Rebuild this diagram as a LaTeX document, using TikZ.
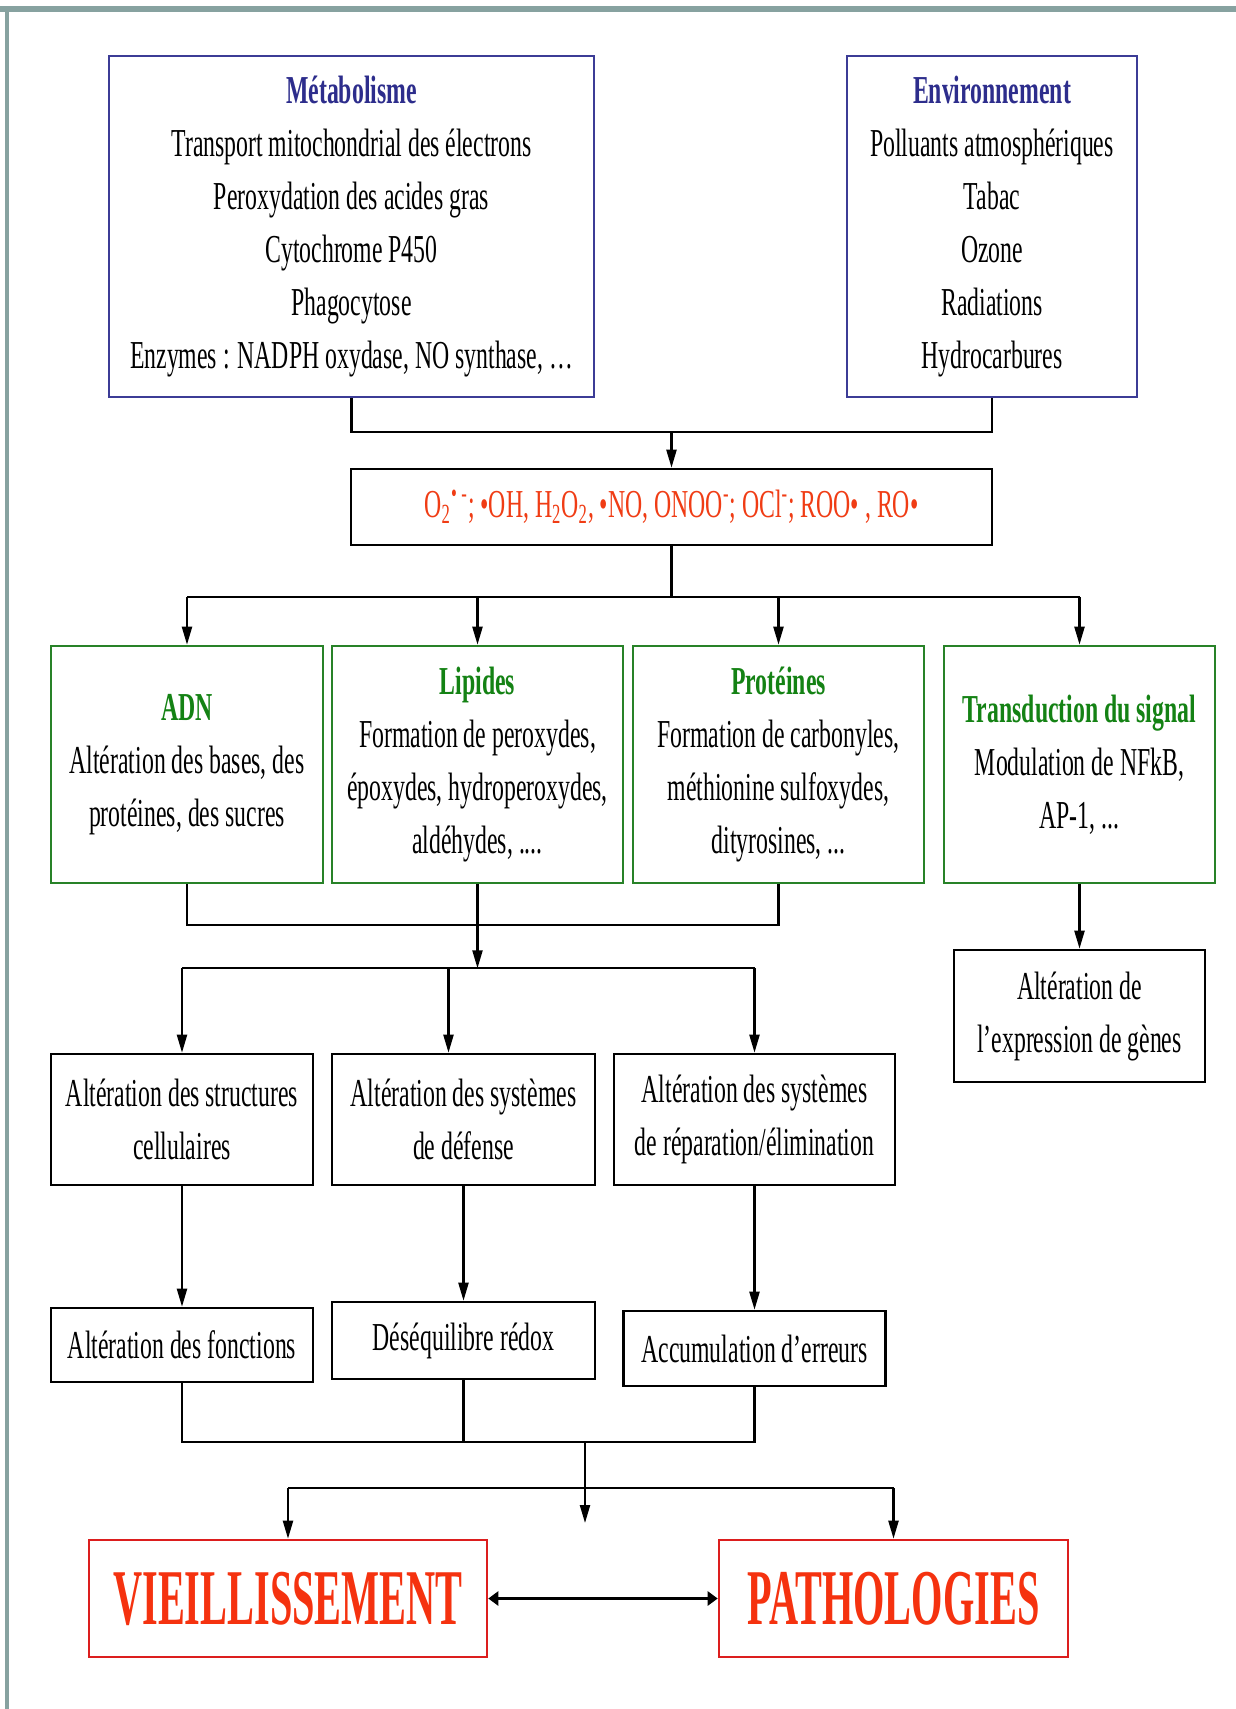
\documentclass[tikz,border=0pt]{standalone}
\usepackage{fontspec}
\setmainfont{Liberation Serif}[FakeStretch=0.6]
\newfontfamily\bigfont{Liberation Serif}[FakeStretch=0.51]
\usetikzlibrary{arrows.meta}

\definecolor{titleblue}{RGB}{45,45,140}
\definecolor{boxblue}{RGB}{60,60,150}
\definecolor{titlegreen}{RGB}{20,130,20}
\definecolor{boxgreen}{RGB}{40,130,40}
\definecolor{rostext}{RGB}{240,60,20}
\definecolor{bigred}{RGB}{245,50,15}
\definecolor{boxred}{RGB}{220,30,30}
\definecolor{framegray}{RGB}{135,162,160}

\begin{document}
\begin{tikzpicture}[x=0.5pt,y=-0.5pt,
  font=\fontsize{19.8}{26.5}\selectfont,
  box/.style={draw, line width=1.3pt, align=center, inner sep=2pt},
  bluebox/.style={box, draw=boxblue, minimum height=170.5pt},
  greenbox/.style={box, draw=boxgreen, minimum height=118.5pt},
  redbox/.style={box, draw=boxred, minimum height=58.5pt, text=bigred,
    font=\bigfont\bfseries\fontsize{39.5}{42}\selectfont},
  conn/.style={line width=1.1pt},
  arr/.style={conn, -{Triangle[length=9pt,width=5pt]}},
  both/.style={line width=1.7pt, {Triangle[length=5pt,width=7pt]}-{Triangle[length=5pt,width=7pt]}}]

\useasboundingbox (0,0) rectangle (1236,1709);
\fill[white] (0,0) rectangle (1236,1709);
\draw[framegray, line width=3pt] (0,9) -- (1236,9);
\draw[framegray, line width=2pt] (7,9) -- (7,1709);

% sources
\node[bluebox, minimum width=242.5pt] (meta) at (351.5,226.5)
  {\textbf{\color{titleblue}Métabolisme}\\Transport mitochondrial des électrons\\
   Peroxydation des acides gras\\Cytochrome P450\\Phagocytose\\
   Enzymes : NADPH oxydase, NO synthase, \dots};
\node[bluebox, minimum width=145pt] (env) at (992,226.5)
  {\textbf{\color{titleblue}Environnement}\\Polluants atmosphériques\\Tabac\\Ozone\\
   Radiations\\Hydrocarbures};

\node[box, minimum width=320.5pt, minimum height=38pt, text=rostext] (ros) at (671.5,507)
  {O\textsubscript{2}\textsuperscript{•\,-}; •OH, H\textsubscript{2}O\textsubscript{2}, •NO,
   ONOO\textsuperscript{-}; OCl\textsuperscript{-}; ROO• , RO•};

% cibles
\node[greenbox, minimum width=136pt] (adn) at (187,764.5)
  {\textbf{\color{titlegreen}ADN}\\Altération des bases, des\\protéines, des sucres};
\node[greenbox, minimum width=145.5pt] (lip) at (477.5,764.5)
  {\textbf{\color{titlegreen}Lipides}\\Formation de peroxydes,\\époxydes, hydroperoxydes,\\aldéhydes, ....};
\node[greenbox, minimum width=145.5pt] (prot) at (778.5,764.5)
  {\textbf{\color{titlegreen}Protéines}\\Formation de carbonyles,\\méthionine sulfoxydes,\\dityrosines, ...};
\node[greenbox, minimum width=135.5pt] (trans) at (1079.5,764.5)
  {\textbf{\color{titlegreen}Transduction du signal}\\Modulation de NFkB,\\AP-1, ...};

\node[box, minimum width=125.5pt, minimum height=66pt] (gene) at (1079.5,1016)
  {Altération de\\l’expression de gènes};

% consequences
\node[box, minimum width=131pt, minimum height=65.5pt] (struc) at (182,1119.5)
  {Altération des structures\\cellulaires};
\node[box, minimum width=131.5pt, minimum height=65.5pt] (defn) at (463.5,1119.5)
  {Altération des systèmes\\de défense};
\node[box, minimum width=140.5pt, minimum height=65.5pt] (repa) at (754.5,1119.5)
  {Altération des systèmes\\de réparation/élimination};

\node[box, minimum width=131pt, minimum height=37pt] (fonc) at (182,1345) {Altération des fonctions};
\node[box, minimum width=131.5pt, minimum height=38.5pt] (redox) at (463.5,1340.5) {Déséquilibre rédox};
\node[box, minimum width=131pt, minimum height=37.5pt] (erreur) at (754.5,1348.5) {Accumulation d’erreurs};

\node[redbox, minimum width=199pt] (vieil) at (288,1598.5) {VIEILLISSEMENT};
\node[redbox, minimum width=174.5pt] (patho) at (893.5,1598.5) {PATHOLOGIES};

% liaisons
\coordinate (j1) at ([yshift=18pt]ros.north);
\draw[conn] (meta.south) |- (j1) -| (env.south);
\draw[arr] (j1) -- (ros.north);

\coordinate (j2) at ([yshift=-25.5pt]ros.south);
\draw[conn] (ros.south) -- (j2);
\draw[conn] (adn.north |- j2) -- (trans.north |- j2);
\foreach \n in {adn,lip,prot,trans}
  \draw[arr] (\n.north |- j2) -- (\n.north);

\coordinate (j3) at ([yshift=-20.5pt]lip.south);
\draw[conn] (adn.south) |- (j3) -| (prot.south);
\coordinate (j4) at ([yshift=-42pt]lip.south);
\draw[arr] (lip.south) -- (j4);
\draw[conn] (struc.north |- j4) -- (repa.north |- j4);
\draw[arr] (struc.north |- j4) -- (struc.north);
\draw[arr] ([xshift=-7.5pt]defn.north |- j4) -- ([xshift=-7.5pt]defn.north);
\draw[arr] (repa.north |- j4) -- (repa.north);

\draw[arr] (trans.south) -- (gene.north);

\draw[arr] (struc.south) -- (fonc.north);
\draw[arr] (defn.south) -- (redox.north);
\draw[arr] (repa.south) -- (erreur.north);

\coordinate (j5) at (585,1442);
\coordinate (j6) at (585,1523);
\draw[conn] (fonc.south) |- (j5) -| (erreur.south);
\draw[conn] (redox.south) -- (redox.south |- j5);
\draw[arr] (j5) -- (j6);

\coordinate (j7) at (585,1488);
\draw[conn] (vieil.north |- j7) -- (patho.north |- j7);
\draw[arr] (vieil.north |- j7) -- (vieil.north);
\draw[arr] (patho.north |- j7) -- (patho.north);

\draw[both] (vieil.east) -- (patho.west);

\end{tikzpicture}
\end{document}
